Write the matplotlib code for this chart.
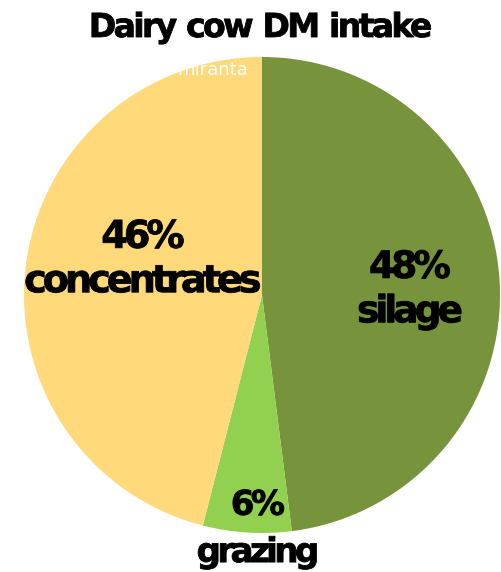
import matplotlib
matplotlib.use("Agg")
from matplotlib import pyplot as plt
from matplotlib.patheffects import AbstractPathEffect
from matplotlib.path import Path
import numpy as np

# share of dry matter intake by feed source
sources = ["silage", "grazing", "concentrates"]
shares = [48, 6, 46]
colors = ["#77933C", "#92D050", "#FFD97A"]

title = "Dairy cow DM intake"
credit = "miranta"

# where each label sits: fraction of radius, angle nudge (degrees), size, spacing
label_r = [0.622, 0.983, 0.521]
label_nudge = [-1.7, 2.6, -9.2]
label_size = [27, 24.5, 27.5]
label_spacing = [1.3, 1.55, 1.3]


# the original text is set with tight letter spacing: pull glyphs together
class Tracking(AbstractPathEffect):
    def __init__(self, track, weight=0.6):
        super().__init__()
        self.track = track * 100  # text paths use 100 units per em
        self.weight = weight

    def draw_path(self, renderer, gc, tpath, affine, rgbFace=None):
        verts = tpath.vertices.copy()
        codes = tpath.codes
        if codes is None or len(verts) == 0:
            renderer.draw_path(gc, tpath, affine, rgbFace)
            return
        starts = np.flatnonzero(codes == Path.MOVETO)
        ends = np.append(starts[1:], len(codes))
        parts = []
        for s, e in zip(starts, ends):
            keep = codes[s:e] != Path.CLOSEPOLY
            xs = verts[s:e][keep, 0]
            parts.append((xs.min(), xs.max(), s, e))
        parts.sort()
        # contours that overlap in x belong to the same glyph
        glyph, right, idx = -1, -np.inf, []
        for x0, x1, s, e in parts:
            if x0 >= right - 1:
                glyph += 1
                right = x1
            else:
                right = max(right, x1)
            idx.append((glyph, s, e))
        shift0 = glyph * self.track / 2
        for g, s, e in idx:
            verts[s:e, 0] += shift0 - g * self.track
        gc2 = renderer.new_gc()
        gc2.copy_properties(gc)
        gc2.set_linewidth(self.weight)
        gc2.set_foreground(rgbFace)
        renderer.draw_path(gc2, Path(verts, codes), affine, rgbFace)
        gc2.restore()


W, H = 501, 572
fig = plt.figure(figsize=(W / 100, H / 100), dpi=100)

# pie centre at (262, 295) px, radius 238 px
cx, cy, r = 262, 295, 238
ax = fig.add_axes([(cx - r) / W, (H - cy - r) / H, 2 * r / W, 2 * r / H])
wedges, _ = ax.pie(shares, colors=colors, startangle=90, counterclock=False,
                   radius=1, wedgeprops=dict(linewidth=0))
ax.set_xlim(-1, 1)
ax.set_ylim(-1, 1)
ax.set_axis_off()

for w, name, pct, rr, nudge, fs, ls in zip(wedges, sources, shares, label_r,
                                           label_nudge, label_size, label_spacing):
    ang = np.deg2rad((w.theta1 + w.theta2) / 2 + nudge)
    ax.text(rr * np.cos(ang), rr * np.sin(ang), f"{pct}%\n{name}",
            ha="center", va="center", fontsize=fs, fontweight="bold",
            linespacing=ls, color="black", path_effects=[Tracking(0.105)],
            zorder=5)

fig.text(260 / W, 1 - 37 / H, title, ha="center", va="baseline",
         fontsize=23.8, fontweight="bold", path_effects=[Tracking(0.08)])

fig.text(248 / W, 1 - 75 / H, credit, ha="right", va="baseline",
         fontsize=13, color="white", zorder=10)

fig.savefig("out.png", dpi=100)
